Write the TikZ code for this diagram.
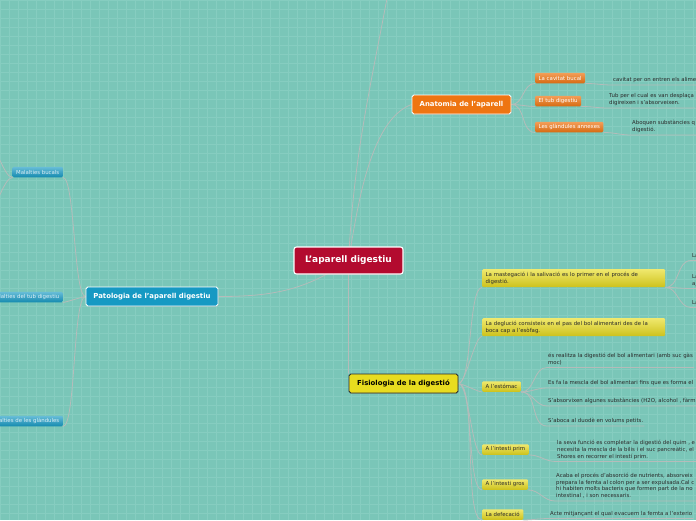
\documentclass[tikz,border=0pt]{standalone}
\usepackage{fontspec}
\setmainfont{DejaVu Sans}
\usepackage{xcolor}
\definecolor{Sea}{HTML}{7AC6B8}
\definecolor{SeaGrid}{HTML}{86CDC0}
\definecolor{Wire}{HTML}{B5BCBA}
\definecolor{RootRed}{HTML}{B30B2F}
\definecolor{AnaOrange}{HTML}{EE7512}
\definecolor{PatBlue}{HTML}{1699C3}
\definecolor{FisYellow}{HTML}{E8DC1F}
\definecolor{NoteText}{HTML}{2B2B2B}
\definecolor{PaleBlue}{HTML}{DCEFF5}
\usetikzlibrary{shadows}
\pgfdeclarelayer{bg}
\pgfdeclarelayer{edges}
\pgfsetlayers{bg,edges,main}
\tikzset{
  rootbox/.style={draw=white,line width=1.1pt,fill=RootRed,rounded corners=2.5pt,
    text=white,font=\bfseries\fontsize{9}{11}\selectfont,minimum width=109pt,
    minimum height=27pt,inner sep=0pt,
    drop shadow={opacity=0.25,shadow xshift=0.5pt,shadow yshift=-0.8pt}},
  topicbox/.style={draw=white,line width=0.9pt,rounded corners=1.8pt,text=white,
    font=\bfseries\fontsize{6.9}{8}\selectfont,minimum height=19pt,inner sep=0pt,
    drop shadow={opacity=0.3,shadow xshift=0.5pt,shadow yshift=-0.8pt}},
  subbox/.style={rounded corners=1.2pt,font=\fontsize{5.4}{6.8}\selectfont,
    minimum height=10.5pt,inner xsep=3.5pt,inner ysep=1.5pt},
  osub/.style={subbox,top color=AnaOrange!70!white,bottom color=AnaOrange!90!black,text=white},
  bsub/.style={subbox,top color=PatBlue!65!white,bottom color=PatBlue!90!black,text=PaleBlue},
  ysub/.style={subbox,top color=FisYellow!65!white,bottom color=FisYellow!88!black,text=NoteText},
  notetext/.style={anchor=south west,font=\fontsize{5.4}{6.8}\selectfont,text=NoteText,
    inner xsep=1pt,inner ysep=1pt},
  branch/.style={draw=Wire,line width=0.8pt},
  fan/.style={branch,out=0,in=180,looseness=0.35},
}
\newcommand{\nt}[1]{\begin{tabular}[b]{@{}l@{}}#1\end{tabular}}

\begin{document}
\begin{tikzpicture}[x=1pt,y=-1pt]
\useasboundingbox (0,0) rectangle (696,520);
\clip (0,0) rectangle (696,520);
\begin{pgfonlayer}{bg}
  \fill[Sea] (0,0) rectangle (696,520);
  \draw[SeaGrid,line width=1pt,step=9pt] (0,520) grid (696,0);
\end{pgfonlayer}

% main topics
\node[rootbox] (dig) at (348.5,260.5) {L'aparell digestiu};
\node[topicbox,fill=AnaOrange,minimum width=99pt] (ana) at (461.5,104.5) {Anatomia de l'aparell};
\node[topicbox,fill=PatBlue,minimum width=132pt] (pat) at (152,296.5) {Patologia de l'aparell digestiu};
\node[topicbox,fill=FisYellow,draw=NoteText,text=black,minimum width=109pt] (fis) at (403.5,383.5)
  {Fisiologia de la digestió};
\coordinate (upper) at (394,-40);

% anatomia
\node[osub,anchor=west] (cav) at (535,78) {La cavitat bucal};
\node[osub,anchor=west] (tub) at (535,101) {El tub digestiu};
\node[osub,anchor=west] (gla) at (535,127) {Les glàndules annexes};
\node[notetext] (cavN) at (612,85) {\nt{cavitat per on entren els alime}};
\node[notetext] (tubN) at (608,108) {\nt{Tub per el cual es van desplaça\\digireixen i s'absorveixen.}};
\node[notetext] (glaN) at (631,135) {\nt{Aboquen substàncies q\\digestió.}};

% patologia
\node[bsub,anchor=east] (mbuc) at (63,172) {Malalties bucals};
\node[bsub,anchor=east] (mtub) at (63,297) {Malalties del tub digestiu};
\node[bsub,anchor=east] (mgla) at (63,421) {Malalties de les glàndules};
\coordinate (bucUp) at (-14,140);
\coordinate (bucDn) at (-14,215);

% fisiologia
\node[ysub,anchor=north west,text width=176pt,align=left,minimum height=18pt] (mas) at (482,269)
  {La mastegació i la salivació es lo primer en el procés de\\digestió.};
\node[ysub,anchor=north west,text width=176pt,align=left,minimum height=18pt] (deg) at (482,318)
  {La deglució consisteix en el pas del bol alimentari des de la\\boca cap a l'esòfag.};
\node[ysub,anchor=west] (est) at (482,386.5) {A l'estómac};
\node[ysub,anchor=west] (pri) at (482,449.5) {A l'intesti prim};
\node[ysub,anchor=west] (gro) at (482,484.5) {A l'intesti gros};
\node[ysub,anchor=west] (def) at (482,514.5) {La defecació};

\node[notetext] (mas1) at (691,260.5) {\nt{La}};
\node[notetext] (mas2) at (691,288.5) {\nt{La\\aj}};
\node[notetext] (mas3) at (691,307.5) {\nt{La}};
\node[notetext] (est1) at (547,367.5)
  {\nt{és realitza la digestió del bol alimentari (amb suc gàs\\moc)}};
\node[notetext] (est2) at (547,388) {\nt{Es fa la mescla del bol alimentari fins que es forma el}};
\node[notetext] (est3) at (547,406) {\nt{S'absorvixen algunes substàncies (H2O, alcohol , fàrm}};
\node[notetext] (est4) at (547,426) {\nt{S'aboca al duodè en volums petits.}};
\node[notetext] (priN) at (556,461.5)
  {\nt{la seva funció es completar la digestió del quim , e\\necesita la mescla de la bilis i el suc pancreàtic, el\\Shores en recorrer el intestí prim.}};
\node[notetext] (groN) at (555,501)
  {\nt{Acaba el procés d'absorció de nutrients, absorveix\\prepara la femta al colon per a ser expulsada.Cal c\\hi habiten molts bacteris que formen part de la no\\intestinal , i son necessaris.}};
\node[notetext] (defN) at (549,518.5) {\nt{Acte mitjançant el qual evacuem la femta a l'exterio}};

% connectors
\begin{pgfonlayer}{edges}
  \draw[branch] (dig.center) to[out=87,in=-100] (upper);
  \draw[branch] (dig.center) to[out=80,in=200,looseness=0.7] (ana.west);
  \draw[branch] (dig.center) to[out=215,in=0] (pat.east);
  \draw[branch] (dig.center) -- (fis.north west);

  \foreach \k in {cav,tub,gla}{
    \draw[branch] (ana.east) to[out=0,in=180] (\k.south west);
    \draw[branch] (\k.south east) to[out=0,in=180] (\k N.south west) -- (\k N.south east);}

  \foreach \k in {mbuc,mtub,mgla}
    \draw[branch] (pat.west) to[out=180,in=0,looseness=0.25] (\k.south east);
  \draw[branch] (mbuc.south west) to[out=180,in=0,looseness=0.5] (bucUp);
  \draw[branch] (mbuc.south west) to[out=180,in=0,looseness=0.5] (bucDn);

  \foreach \k in {mas,deg,est,pri,gro,def}
    \draw[fan] (fis.east) to (\k.south west);
  \foreach \k in {mas1,mas2,mas3}
    \draw[branch] (mas.south east) to[out=0,in=180] (\k.south west) -- (\k.south east);
  \foreach \k in {est1,est2,est3,est4}
    \draw[branch] (est.south east) to[out=0,in=180] (\k.south west) -- (\k.south east);
  \draw[branch] (pri.south east) to[out=0,in=180] (priN.south west) -- (priN.south east);
  \draw[branch] (gro.south east) to[out=0,in=180] (groN.south west) -- (groN.south east);
  \draw[branch] (def.south east) to[out=0,in=180] (defN.south west) -- (defN.south east);
\end{pgfonlayer}
\end{tikzpicture}
\end{document}
